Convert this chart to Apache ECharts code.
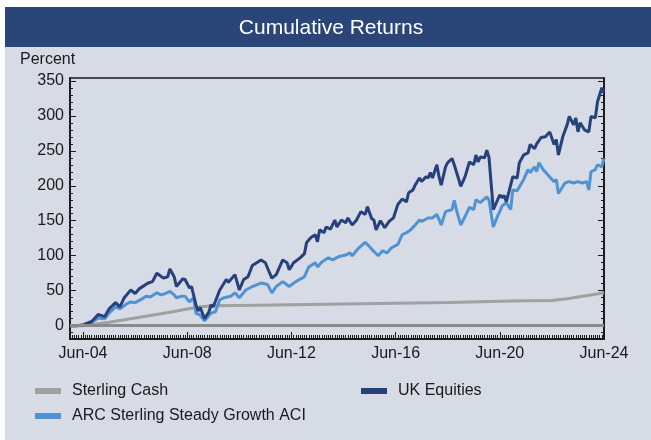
<!DOCTYPE html>
<html>
<head>
<meta charset="utf-8">
<script src="https://cdn.jsdelivr.net/npm/echarts@6/dist/echarts.min.js"></script>
<style>
html,body{margin:0;padding:0;background:#fff;}
#bg{position:absolute;left:5px;top:7px;width:646px;height:433px;background:#d6dbe5;}
#main{position:absolute;left:0;top:0;width:651px;height:440px;}
</style>
</head>
<body>
<div id="bg"></div>
<div id="main"></div>
<script>
// months counted from Jun-04 (= 0)
var xTickMonths=[0,48,96,144,192,240];
var xTickLabels=['Jun-04','Jun-08','Jun-12','Jun-16','Jun-20','Jun-24'];
var yTickValues=[0,50,100,150,200,250,300,350];

var cashMonths=[-6,0,12,24,36,43,48,54,60,72,96,120,144,168,192,204,216,222,228,234,240];
var cashValues=[0,0,5,11,17,21,24,27,28.5,29,30,31,32,33,35,35.5,36,38,41,44,47];

var ukMonths=[-6,-3,0,4,7,10,12,15,17,19,22,24,26,30,32,34,37,39,40,42,43,46,47,49,50,52,53,54,56,58,59,60,63,64,66,67,70,72,74,76,78,80,82,84,86,87,89,92,94,95,97,100,102,103,105,107,108,109,111,112,114,116,117,119,121,122,124,126,128,130,131,133,134,135,137,139,141,143,145,147,149,150,152,153,155,156,158,159,160,161,163,164,165,167,168,170,171,172,173,174,176,178,180,181,182,183,185,186,187,189,191,192,193,194,195,197,198,200,201,203,205,206,208,209,211,213,215,217,218,219,221,223,224,226,227,228,229,231,233,234,236,237,238,239,240];
var ukValues=[0,0,1,6,16,13,24,33,27,40,51,46,53,61,63,75,68,70,81,70,56,67,66,54,56,30,21,26,10,20,30,27,51,56,66,62,73,51,66,70,86,90,94,90,75,68,73,94,90,80,90,97,103,119,126,130,120,137,133,141,138,151,141,151,147,154,144,151,163,159,170,153,151,137,150,140,149,154,173,181,177,190,194,201,211,206,213,211,219,211,230,213,201,227,233,239,230,220,210,199,213,234,230,244,234,241,240,251,241,166,180,187,183,186,177,201,213,211,233,244,247,259,253,260,269,270,277,259,266,244,270,287,299,287,297,277,290,280,277,299,297,320,330,340,333];

var arcMonths=[-6,-3,0,4,7,10,12,15,17,20,22,24,27,29,31,34,36,38,40,42,43,45,47,49,51,52,54,56,59,61,63,65,68,70,72,75,78,82,85,87,89,92,95,98,102,104,107,108,110,113,115,118,121,123,124,127,130,132,134,136,138,140,142,145,147,149,151,153,155,156,159,161,163,165,167,170,171,172,174,176,178,180,181,183,186,187,189,191,192,193,195,197,198,200,203,205,206,208,209,210,212,214,216,217,218,219,221,222,224,226,228,230,232,233,234,236,237,239,240];
var arcValues=[0,0,1,5,11,10,18,27,24,31,34,33,38,42,41,47,44,46,49,44,40,42,42,34,40,18,15,7,18,20,37,40,42,47,40,51,56,61,59,47,56,63,56,63,70,84,90,84,91,97,94,99,101,104,100,111,119,113,106,100,107,104,111,116,130,133,137,144,151,149,154,154,159,144,163,166,179,166,144,156,169,166,180,176,184,180,141,157,163,171,176,166,194,193,209,223,219,227,220,233,223,216,209,206,209,189,199,204,206,204,206,204,206,194,220,223,230,227,239];

var textColor='#1a1a1a';
var yMin=-19,yMax=354,xMin=-6,xMax=240;

function pairs(xs,ys){
    var out=[];
    for(var i=0;i<xs.length;i++){
        out.push([xs[i],ys[i]]);
    }
    return out;
}
function steps(a,b,step){
    var out=[];
    for(var v=a;v<=b;v+=step){out.push(v);}
    return out;
}

// major ticks + labels on one axis, minor ticks on a second axis at the same place
function xAxisDef(ticks,len,showLabel){
    return {
        type:'value',min:xMin,max:xMax,position:'bottom',
        axisLine:{show:true,onZero:false,lineStyle:{color:textColor,width:1.5}},
        axisTick:{show:true,inside:true,length:len,customValues:ticks,lineStyle:{color:textColor,width:1}},
        axisLabel:{
            show:showLabel,customValues:xTickMonths,margin:7,
            color:textColor,fontSize:16,fontFamily:'Liberation Sans, Arial, sans-serif',
            formatter:function(v){
                var i=xTickMonths.indexOf(Math.round(v));
                return i<0?'':xTickLabels[i];
            }
        },
        splitLine:{show:false}
    };
}
function yAxisDef(pos,ticks,len,showLabel){
    return {
        type:'value',min:yMin,max:yMax,position:pos,
        axisLine:{show:true,onZero:false,lineStyle:{color:textColor,width:1.5}},
        axisTick:{show:true,inside:true,length:len,customValues:ticks,lineStyle:{color:textColor,width:1}},
        axisLabel:{
            show:showLabel,customValues:yTickValues,margin:6,
            color:textColor,fontSize:16,fontFamily:'Liberation Sans, Arial, sans-serif'
        },
        splitLine:{show:false}
    };
}
function legendDef(name,left,top){
    return {
        data:[name],left:left,top:top,padding:0,
        icon:'rect',itemWidth:26,itemHeight:6,
        selectedMode:false,
        textStyle:{color:textColor,fontSize:16,fontFamily:'Liberation Sans, Arial, sans-serif',padding:[0,0,0,6]}
    };
}

var myChart=echarts.init(document.getElementById('main'),null,{renderer:'canvas'});
var option={
    animation:false,
    backgroundColor:'transparent',
    graphic:[
        {type:'rect',shape:{x:5,y:7,width:646,height:40},style:{fill:'#2a4578'},silent:true},
        {type:'text',x:331,y:28,style:{text:'Cumulative Returns',fill:'#fff',fontSize:21,
            fontFamily:'Liberation Sans, Arial, sans-serif',align:'center',verticalAlign:'middle'}},
        {type:'text',x:20,y:60,style:{text:'Percent',fill:textColor,fontSize:16,
            fontFamily:'Liberation Sans, Arial, sans-serif',align:'left',verticalAlign:'middle'}}
    ],
    grid:{
        left:70,top:78,right:47,bottom:101,
        containLabel:false,outerBoundsMode:'none',
        show:true,borderColor:textColor,borderWidth:1.5,backgroundColor:'transparent'
    },
    legend:[
        legendDef('Sterling Cash',35,383),
        legendDef('UK Equities',361,383),
        legendDef('ARC Sterling Steady Growth ACI',35,408)
    ],
    xAxis:[
        xAxisDef(xTickMonths,7,true),
        xAxisDef(steps(-5,240,1),4,false)
    ],
    yAxis:[
        yAxisDef('left',yTickValues,6,true),
        yAxisDef('left',steps(-10,350,10),3,false),
        yAxisDef('right',yTickValues,6,false),
        yAxisDef('right',steps(-10,350,10),3,false)
    ],
    series:[
        {
            name:'Sterling Cash',type:'line',data:pairs(cashMonths,cashValues),
            showSymbol:false,symbol:'none',color:'#a0a0a0',
            lineStyle:{width:3,color:'#a0a0a0'},
            markLine:{
                silent:true,symbol:'none',label:{show:false},
                lineStyle:{color:'#8a8a8a',width:3,type:'solid'},
                data:[{yAxis:0}]
            }
        },
        {
            name:'ARC Sterling Steady Growth ACI',type:'line',data:pairs(arcMonths,arcValues),
            showSymbol:false,symbol:'none',color:'#4f93d3',
            lineStyle:{width:3,color:'#4f93d3'}
        },
        {
            name:'UK Equities',type:'line',data:pairs(ukMonths,ukValues),
            showSymbol:false,symbol:'none',color:'#26417c',
            lineStyle:{width:3,color:'#26417c'}
        }
    ]
};
myChart.setOption(option);
</script>
</body>
</html>
